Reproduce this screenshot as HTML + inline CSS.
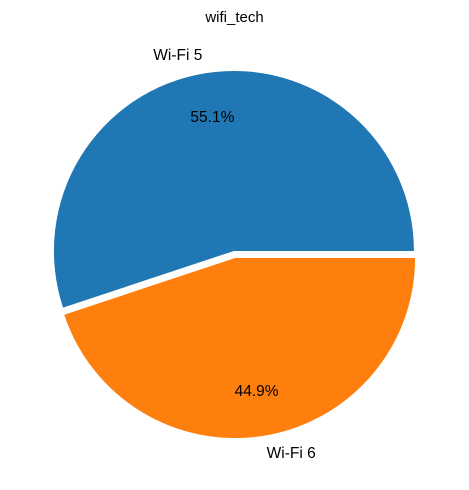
<!DOCTYPE html>
<html><head><meta charset="utf-8"><style>
body{margin:0;background:#fff;}
svg{display:block;font-family:"Liberation Sans","DejaVu Sans",sans-serif;}
</style></head><body>
<svg id="chart" width="469" height="490" viewBox="0 0 469 490">
<text x="234.5" y="22" text-anchor="middle" font-size="15">wifi_tech</text>
<g id="slices"></g>
</svg>
<script>
const labels = ["Wi-Fi 5", "Wi-Fi 6"];
const values = [55.1, 44.9];
const colors = ["#1f77b4", "#ff7f0e"];
const explode = [0.02, 0.02];
const cx = 234.5, cy = 254.5, R = 180;
const g = document.getElementById('slices');
const ns = 'http://www.w3.org/2000/svg';
const total = values.reduce((a,b)=>a+b,0);
let start = 0;
values.forEach((v,i)=>{
  const sweep = v/total*360;
  const end = start + sweep, mid = (start+end)/2*Math.PI/180;
  const ox = cx + explode[i]*R*Math.cos(mid), oy = cy - explode[i]*R*Math.sin(mid);
  const a0 = start*Math.PI/180, a1 = end*Math.PI/180;
  const x0 = ox + R*Math.cos(a0), y0 = oy - R*Math.sin(a0);
  const x1 = ox + R*Math.cos(a1), y1 = oy - R*Math.sin(a1);
  const p = document.createElementNS(ns,'path');
  p.setAttribute('d', `M${ox},${oy} L${x0},${y0} A${R},${R} 0 ${sweep>180?1:0} 0 ${x1},${y1} Z`);
  p.setAttribute('fill', colors[i]);
  
  
  g.appendChild(p);
  const c = Math.cos(mid), s = Math.sin(mid);
  const lt = document.createElementNS(ns,'text');
  lt.setAttribute('x', ox + 1.1*R*c);
  lt.setAttribute('y', oy - 1.1*R*s);
  lt.setAttribute('text-anchor', c < 0 ? 'end' : 'start');
  lt.setAttribute('dominant-baseline', 'central');
  lt.setAttribute('font-size', '15.5');
  lt.textContent = labels[i];
  
  
  g.appendChild(lt);
  const pt = document.createElementNS(ns,'text');
  pt.setAttribute('x', ox + 0.75*R*c);
  pt.setAttribute('y', oy - 0.75*R*s);
  pt.setAttribute('text-anchor', 'middle');
  pt.setAttribute('dominant-baseline', 'central');
  pt.setAttribute('font-size', '15.5');
  pt.textContent = (v/total*100).toFixed(1) + '%';
  
  
  g.appendChild(pt);
  start = end;
});
</script>
</body></html>
